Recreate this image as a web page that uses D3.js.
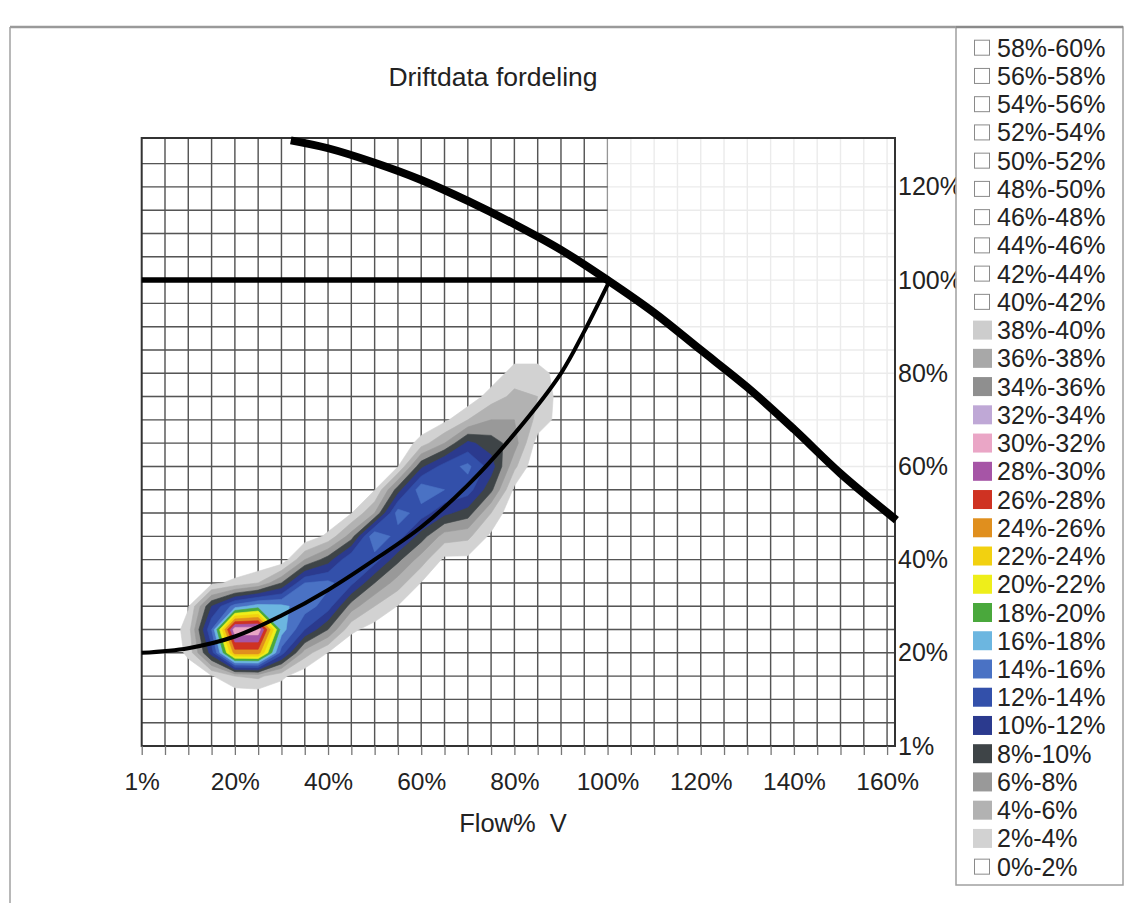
<!DOCTYPE html>
<html>
<head>
<meta charset="utf-8">
<script src="https://cdn.jsdelivr.net/npm/d3@7"></script>
<style>
  body { margin: 0; background: #fff; }
  svg { font-family: "Liberation Sans", Arial, sans-serif; }
</style>
</head>
<body>
<svg width="1127" height="903"></svg>
<script>
// legend bands, top to bottom
const legendLabels = ["58%-60%", "56%-58%", "54%-56%", "52%-54%", "50%-52%", "48%-50%", "46%-48%",
  "44%-46%", "42%-44%", "40%-42%", "38%-40%", "36%-38%", "34%-36%", "32%-34%", "30%-32%",
  "28%-30%", "26%-28%", "24%-26%", "22%-24%", "20%-22%", "18%-20%", "16%-18%", "14%-16%",
  "12%-14%", "10%-12%", "8%-10%", "6%-8%", "4%-6%", "2%-4%", "0%-2%"];
const bandLow = [58, 56, 54, 52, 50, 48, 46, 44, 42, 40, 38, 36, 34, 32, 30, 28, 26, 24, 22, 20,
  18, 16, 14, 12, 10, 8, 6, 4, 2, 0];
const bandColors = [null, null, null, null, null, null, null, null, null, null,
  "#cdcdcd", "#a8a8a8", "#8f8f8f", "#bfa8d6", "#eaa6c6", "#a655a6", "#cf3222", "#e08f1e",
  "#f2d110", "#eeee1a", "#4aa83c", "#6cb6e0", "#4a72c4", "#3350aa", "#2b3a8e", "#3e4447",
  "#999999", "#b2b2b2", "#d2d2d2", null];

const thresholds = [2, 4, 6, 8, 10, 12, 14, 16, 18, 20, 22, 24, 26, 28, 30];

// operating data distribution (% of time), columns = flow %, rows = head % (top to bottom)
const gridQ = [0, 5, 10, 15, 20, 25, 30, 35, 40, 45, 50, 55, 60, 65, 70, 75, 80, 85, 90, 95, 100];
const gridH = [90, 85, 80, 75, 70, 65, 60, 55, 50, 45, 40, 35, 30, 25, 20, 15, 10, 5, 0];
const density = [
  [0,0,0,0,0,0,0,0,0,0,0,0,0,0,0,0,0,0,0,0,0],
  [0,0,0,0,0,0,0,0,0,0,0,0,0,0,0,0,0.5,0.5,0,0,0],
  [0,0,0,0,0,0,0,0,0,0,0,0,0,0,0,0.5,3,3,1,0,0],
  [0,0,0,0,0,0,0,0,0,0,0,0,0,0,0.5,3,4.5,4,1,0,0],
  [0,0,0,0,0,0,0,0,0,0,0,0,0,1.5,4,6,6,3.5,1,0,0],
  [0,0,0,0,0,0,0,0,0,0,0,0,3,6,10.5,9,7,1,0,0,0],
  [0,0,0,0,0,0,0,0,0,0,0,1.9,9.5,13,14.5,11,4.5,0,0,0,0],
  [0,0,0,0,0,0,0,0,0,0,1.9,9,15.5,14,13,8.5,1.5,0,0,0,0],
  [0,0,0,0,0,0,0,0,0,1.9,6,15,13,10.5,9,4,0,0,0,0,0],
  [0,0,0,0,0,0,0,0.5,2.5,7,16,13,9,5,4.5,1.5,0,0,0,0,0],
  [0,0,0,0,0,0,0.5,6,9,14,13,8.5,5,1.5,1.5,0,0,0,0,0,0],
  [0,0,0,1.5,2.5,4,8,14,14.5,12.5,8,5,1.9,0,0,0,0,0,0,0,0],
  [0,0,1.8,10,15,17,16.5,15,13,7,4,1.9,0,0,0,0,0,0,0,0,0],
  [0,0,3,14,31.5,31.5,17,12,8,2.5,1,0,0,0,0,0,0,0,0,0,0],
  [0,0,2.5,11,25,25,13,5,1.9,0,0,0,0,0,0,0,0,0,0,0,0],
  [0,0,0.5,1.8,4,4.5,2.5,0.5,0,0,0,0,0,0,0,0,0,0,0,0,0],
  [0,0,0,0,0,0,0,0,0,0,0,0,0,0,0,0,0,0,0,0,0],
  [0,0,0,0,0,0,0,0,0,0,0,0,0,0,0,0,0,0,0,0,0],
  [0,0,0,0,0,0,0,0,0,0,0,0,0,0,0,0,0,0,0,0,0]
];

// pump curve, reference line and system curve
const pumpQ = [32, 40, 50, 60, 70, 80, 90, 100, 110, 120, 130, 140, 150, 162];
const pumpH = [130, 128.3, 125.2, 121.5, 117, 112, 106.5, 100, 93, 85, 77, 68, 58.5, 48.5];
const refQ = [0, 100];
const refH = [100, 100];
const systemQ = [0, 10, 20, 30, 40, 50, 60, 70, 80, 90, 95, 100.5];
const systemH = [20, 21, 23.5, 28, 33.5, 40, 47, 56, 67, 80, 89, 100];

const xTickValues = [0, 20, 40, 60, 80, 100, 120, 140, 160];
const xTickLabels = ["1%", "20%", "40%", "60%", "80%", "100%", "120%", "140%", "160%"];
const yTickValues = [0, 20, 40, 60, 80, 100, 120];
const yTickLabels = ["1%", "20%", "40%", "60%", "80%", "100%", "120%"];

(function () {
  const svg = d3.select("svg");
  const pLeft = 141.7, pRight = 895, pTop = 138, pBottom = 746;
  const xMax = 161.7, yMax = 130.5;

  const x = d3.scaleLinear().domain([0, xMax]).range([pLeft, pRight]);
  const y = d3.scaleLinear().domain([0, yMax]).range([pBottom, pTop]);

  // outer frame
  svg.append("line").attr("x1", 10).attr("y1", 27).attr("x2", 956).attr("y2", 27)
    .attr("stroke", "#9a9a9a").attr("stroke-width", 2.5);
  svg.append("line").attr("x1", 10).attr("y1", 27).attr("x2", 10).attr("y2", 903)
    .attr("stroke", "#a0a0a0").attr("stroke-width", 1.5);

  svg.append("text").attr("x", 493).attr("y", 86).attr("text-anchor", "middle")
    .attr("font-size", 26.5).attr("fill", "#222").text("Driftdata fordeling");

  const defs = svg.append("defs");
  defs.append("clipPath").attr("id", "plotclip").append("rect")
    .attr("x", pLeft).attr("y", pTop).attr("width", pRight - pLeft).attr("height", pBottom - pTop);

  // grid at full strength everywhere except above the pump curve beyond 100%
  const clipPts = [[0, 0], [0, yMax], [100, yMax]]
    .concat(pumpQ.map((q, i) => [q, pumpH[i]]).filter(d => d[0] >= 100))
    .concat([[xMax + 1, 0]]);
  defs.append("clipPath").attr("id", "gridclip").append("path")
    .attr("d", d3.line().x(d => x(d[0])).y(d => y(d[1]))(clipPts) + "Z");

  const gridQs = d3.range(5, 161, 5);
  const gridHs = d3.range(5, 130, 5);

  function drawGrid(g, color) {
    g.selectAll(".v").data(gridQs).join("line").attr("class", "v")
      .attr("x1", d => x(d)).attr("x2", d => x(d)).attr("y1", pTop).attr("y2", pBottom)
      .attr("stroke", color).attr("stroke-width", 1.4);
    g.selectAll(".h").data(gridHs).join("line").attr("class", "h")
      .attr("y1", d => y(d)).attr("y2", d => y(d)).attr("x1", pLeft).attr("x2", pRight)
      .attr("stroke", color).attr("stroke-width", 1.4);
  }
  drawGrid(svg.append("g"), "#ebebeb");
  drawGrid(svg.append("g").attr("clip-path", "url(#gridclip)"), "#555");

  // density contours
  const nx = gridQ.length, ny = gridH.length;
  const step = gridQ[1] - gridQ[0];
  const contours = d3.contours().size([nx, ny]).thresholds(thresholds)(density.flat());
  const proj = d3.geoTransform({
    point(px, py) {
      this.stream.point(x(gridQ[0] + (px - 0.5) * step), y(gridH[0] - (py - 0.5) * step));
    }
  });
  const cpath = d3.geoPath(proj);
  svg.append("g").attr("clip-path", "url(#plotclip)")
    .selectAll("path").data(contours).join("path")
    .attr("d", cpath)
    .attr("fill", d => bandColors[bandLow.indexOf(d.value)])
    .attr("stroke", d => bandColors[bandLow.indexOf(d.value)])
    .attr("stroke-width", 0.6);

  // plot border
  svg.append("rect").attr("x", pLeft).attr("y", pTop).attr("width", pRight - pLeft).attr("height", pBottom - pTop)
    .attr("fill", "none").attr("stroke", "#333").attr("stroke-width", 2);

  // curves
  const line = d3.line().x(d => x(d[0])).y(d => y(d[1]));
  svg.append("path").attr("d", line(refQ.map((q, i) => [q, refH[i]])))
    .attr("fill", "none").attr("stroke", "#000").attr("stroke-width", 5.5);
  const smooth = d3.line().x(d => x(d[0])).y(d => y(d[1])).curve(d3.curveCatmullRom);
  svg.append("path").attr("d", smooth(systemQ.map((q, i) => [q, systemH[i]])))
    .attr("fill", "none").attr("stroke", "#000").attr("stroke-width", 4);
  svg.append("path").attr("d", smooth(pumpQ.map((q, i) => [q, pumpH[i]])))
    .attr("fill", "none").attr("stroke", "#000").attr("stroke-width", 8);

  // axes
  const xAxis = d3.axisBottom(x).tickValues(d3.range(0, 161, 5))
    .tickFormat(d => { const i = xTickValues.indexOf(d); return i >= 0 ? xTickLabels[i] : ""; })
    .tickSize(9).tickSizeOuter(0).tickPadding(18);
  const gx = svg.append("g").attr("transform", `translate(0,${pBottom})`).call(xAxis);
  gx.select(".domain").remove();
  gx.selectAll(".tick line").attr("stroke", "#777").attr("stroke-width", 1.3);
  gx.selectAll(".tick text").attr("font-size", 24.5).attr("fill", "#222")
    .attr("font-family", "Liberation Sans, Arial, sans-serif");

  const yAxis = d3.axisRight(y).tickValues(yTickValues)
    .tickFormat((d, i) => yTickLabels[i]).tickSize(0).tickPadding(3);
  const gy = svg.append("g").attr("transform", `translate(${pRight},0)`).call(yAxis);
  gy.select(".domain").remove();
  gy.selectAll(".tick text").attr("font-size", 25).attr("fill", "#222")
    .attr("font-family", "Liberation Sans, Arial, sans-serif");

  svg.append("text").attr("x", 513).attr("y", 832).attr("text-anchor", "middle")
    .attr("font-size", 25.5).attr("fill", "#222").style("white-space", "pre").text("Flow%  V");

  // legend
  const legend = svg.append("g");
  legend.append("rect").attr("x", 956).attr("y", 27).attr("width", 167).attr("height", 858)
    .attr("fill", "#fff").attr("stroke", "#a0a0a0").attr("stroke-width", 1.5);
  legend.append("line").attr("x1", 956).attr("x2", 1123).attr("y1", 27).attr("y2", 27)
    .attr("stroke", "#8a8a8a").attr("stroke-width", 2.5);
  legendLabels.forEach((lab, i) => {
    const cy = 47.7 + i * 28.24;
    const c = bandColors[i];
    if (c) {
      legend.append("rect").attr("x", 973).attr("y", cy - 9.5).attr("width", 19).attr("height", 19)
        .attr("fill", c);
    } else {
      legend.append("rect").attr("x", 974.5).attr("y", cy - 7.5).attr("width", 15).attr("height", 15)
        .attr("fill", "#fff").attr("stroke", "#8a8a8a").attr("stroke-width", 1);
    }
    legend.append("text").attr("x", 997).attr("y", cy).attr("dy", "0.36em")
      .attr("font-size", 25).attr("fill", "#222").text(lab);
  });
})();
</script>
</body>
</html>
